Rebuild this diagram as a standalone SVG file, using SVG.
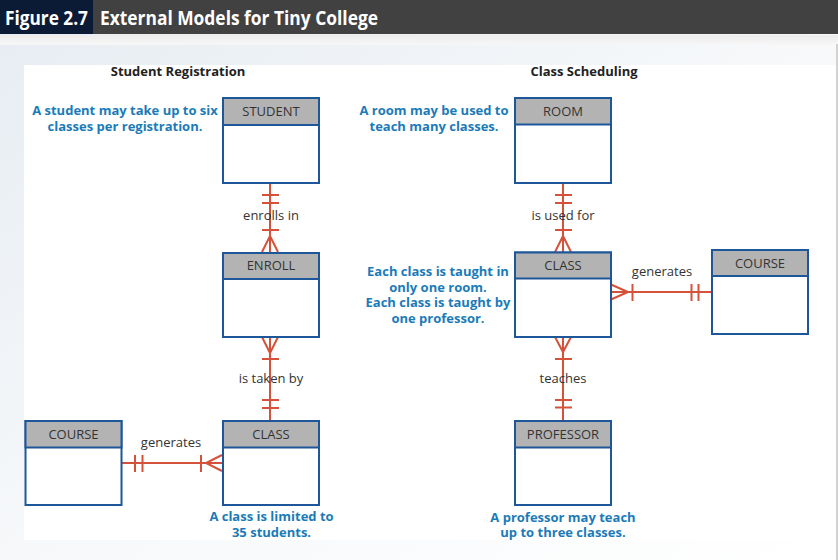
<svg xmlns="http://www.w3.org/2000/svg" width="838" height="560" viewBox="0 0 838 560">
<defs>
<linearGradient id="bg" x1="0" y1="0" x2="1" y2="1">
<stop offset="0" stop-color="#e6ecf2"/>
<stop offset="0.5" stop-color="#f6f8fa"/>
<stop offset="1" stop-color="#ffffff"/>
</linearGradient>
<linearGradient id="band" x1="0" y1="0" x2="0" y2="1">
<stop offset="0" stop-color="#ececec"/>
<stop offset="1" stop-color="#f7f7f7"/>
</linearGradient>
<style>
.hd{fill:#b3b3b3;stroke:#1d5799;stroke-width:2}
.bd{fill:#ffffff;stroke:#1d5799;stroke-width:2}
.en{font-family:"Open Sans","Liberation Sans",sans-serif;font-size:13px;fill:#333333;text-anchor:middle}
.lb{font-family:"Open Sans","Liberation Sans",sans-serif;font-size:13px;fill:#333333;text-anchor:middle}
.nt{font-family:"Open Sans","Liberation Sans",sans-serif;font-size:13px;font-weight:bold;fill:#1b7bb8;text-anchor:middle}
.tt{font-family:"Open Sans","Liberation Sans",sans-serif;font-size:13px;font-weight:bold;fill:#222222;text-anchor:middle}
.cn{fill:none;stroke:#d4523a;stroke-width:2}
.hdr{font-family:"Open Sans","Liberation Sans",sans-serif;font-weight:bold;font-size:20px;fill:#ffffff}
</style>
</defs>
<rect x="0" y="0" width="838" height="560" fill="url(#bg)"/>
<rect x="0" y="35" width="838" height="10" fill="url(#band)"/>
<rect x="24" y="65" width="812" height="475" fill="#ffffff"/>
<line x1="837" y1="44" x2="837" y2="560" stroke="#d2d2d2" stroke-width="2"/>
<rect x="0" y="0" width="838" height="34" fill="#414141"/>
<rect x="0" y="0" width="93" height="34" fill="#0c1b35"/>
<text class="hdr" x="5" y="25" textLength="83" lengthAdjust="spacingAndGlyphs">Figure 2.7</text>
<text class="hdr" x="100" y="25" textLength="278" lengthAdjust="spacingAndGlyphs">External Models for Tiny College</text>

<text class="tt" x="178" y="76">Student Registration</text>
<text class="tt" x="584" y="76">Class Scheduling</text>

<g id="connectors">
<g id="c-student-enroll">
<line class="cn" x1="270" y1="183" x2="270" y2="252"/>
<line class="cn" x1="262" y1="195" x2="279" y2="195"/>
<line class="cn" x1="262" y1="203" x2="279" y2="203"/>
<line class="cn" x1="262" y1="230" x2="279" y2="230"/>
<path class="cn" d="M262,252 L270,236 L278,252"/>
<text class="lb" x="271" y="220">enrolls in</text>
</g>
<g id="c-enroll-class">
<line class="cn" x1="270" y1="337" x2="270" y2="421"/>
<path class="cn" d="M262,337 L270,353 L278,337"/>
<line class="cn" x1="262" y1="359" x2="279" y2="359"/>
<line class="cn" x1="262" y1="400" x2="279" y2="400"/>
<line class="cn" x1="262" y1="408" x2="279" y2="408"/>
<text class="lb" x="271" y="383">is taken by</text>
</g>
<g id="c-course-class">
<line class="cn" x1="122" y1="463" x2="222" y2="463"/>
<line class="cn" x1="135" y1="455" x2="135" y2="472"/>
<line class="cn" x1="142.5" y1="455" x2="142.5" y2="472"/>
<line class="cn" x1="201" y1="455" x2="201" y2="472"/>
<path class="cn" d="M222,455 L206,463 L222,471"/>
<text class="lb" x="171" y="447">generates</text>
</g>
<g id="c-room-class">
<line class="cn" x1="563" y1="183" x2="563" y2="252"/>
<line class="cn" x1="555" y1="195" x2="572" y2="195"/>
<line class="cn" x1="555" y1="203" x2="572" y2="203"/>
<line class="cn" x1="555" y1="230" x2="572" y2="230"/>
<path class="cn" d="M555,252 L563,236 L571,252"/>
<text class="lb" x="563" y="220">is used for</text>
</g>
<g id="c-class-course">
<line class="cn" x1="611" y1="292" x2="712" y2="292"/>
<path class="cn" d="M611,284.5 L628,292 L611,299.5"/>
<line class="cn" x1="632.5" y1="284" x2="632.5" y2="301"/>
<line class="cn" x1="691.5" y1="284" x2="691.5" y2="301"/>
<line class="cn" x1="698.5" y1="284" x2="698.5" y2="301"/>
<text class="lb" x="662" y="276">generates</text>
</g>
<g id="c-class-professor">
<line class="cn" x1="563" y1="337" x2="563" y2="421"/>
<path class="cn" d="M555,337 L563,352 L571,337"/>
<line class="cn" x1="555" y1="359" x2="572" y2="359"/>
<line class="cn" x1="555" y1="400" x2="572" y2="400"/>
<line class="cn" x1="555" y1="407.5" x2="572" y2="407.5"/>
<text class="lb" x="563" y="383">teaches</text>
</g>
</g>

<g id="student">
<rect class="bd" x="223" y="98" width="96" height="85"/>
<rect class="hd" x="223" y="98" width="96" height="27"/>
<text class="en" x="271" y="115.5">STUDENT</text>
</g>
<g id="enroll">
<rect class="bd" x="223" y="253" width="96" height="84"/>
<rect class="hd" x="223" y="253" width="96" height="26"/>
<text class="en" x="271" y="270">ENROLL</text>
</g>
<g id="class-left">
<rect class="bd" x="223" y="421" width="96" height="84"/>
<rect class="hd" x="223" y="421" width="96" height="26.5"/>
<text class="en" x="271" y="438.5">CLASS</text>
</g>
<g id="course-left">
<rect class="bd" x="25.5" y="421" width="96" height="84"/>
<rect class="hd" x="25.5" y="421" width="96" height="26.5"/>
<text class="en" x="73.5" y="438.5">COURSE</text>
</g>
<g id="room">
<rect class="bd" x="515" y="98" width="96" height="85"/>
<rect class="hd" x="515" y="98" width="96" height="26.5"/>
<text class="en" x="563" y="115.5">ROOM</text>
</g>
<g id="class-right">
<rect class="bd" x="515" y="252.5" width="96" height="84.5"/>
<rect class="hd" x="515" y="252.5" width="96" height="26"/>
<text class="en" x="563" y="270">CLASS</text>
</g>
<g id="course-right">
<rect class="bd" x="712" y="250" width="96" height="84"/>
<rect class="hd" x="712" y="250" width="96" height="26"/>
<text class="en" x="760" y="268">COURSE</text>
</g>
<g id="professor">
<rect class="bd" x="515" y="421" width="96" height="84"/>
<rect class="hd" x="515" y="421" width="96" height="26.5"/>
<text class="en" x="563" y="438.5">PROFESSOR</text>
</g>

<g id="notes">
<text class="nt" x="125" y="115">A student may take up to six</text>
<text class="nt" x="125" y="131">classes per registration.</text>
<text class="nt" x="434" y="115">A room may be used to</text>
<text class="nt" x="434" y="131">teach many classes.</text>
<text class="nt" x="438" y="276">Each class is taught in</text>
<text class="nt" x="438" y="291.5">only one room.</text>
<text class="nt" x="438" y="307">Each class is taught by</text>
<text class="nt" x="438" y="322.5">one professor.</text>
<text class="nt" x="271.5" y="521">A class is limited to</text>
<text class="nt" x="271.5" y="536.5">35 students.</text>
<text class="nt" x="563" y="521.5">A professor may teach</text>
<text class="nt" x="563" y="537">up to three classes.</text>
</g>
</svg>
